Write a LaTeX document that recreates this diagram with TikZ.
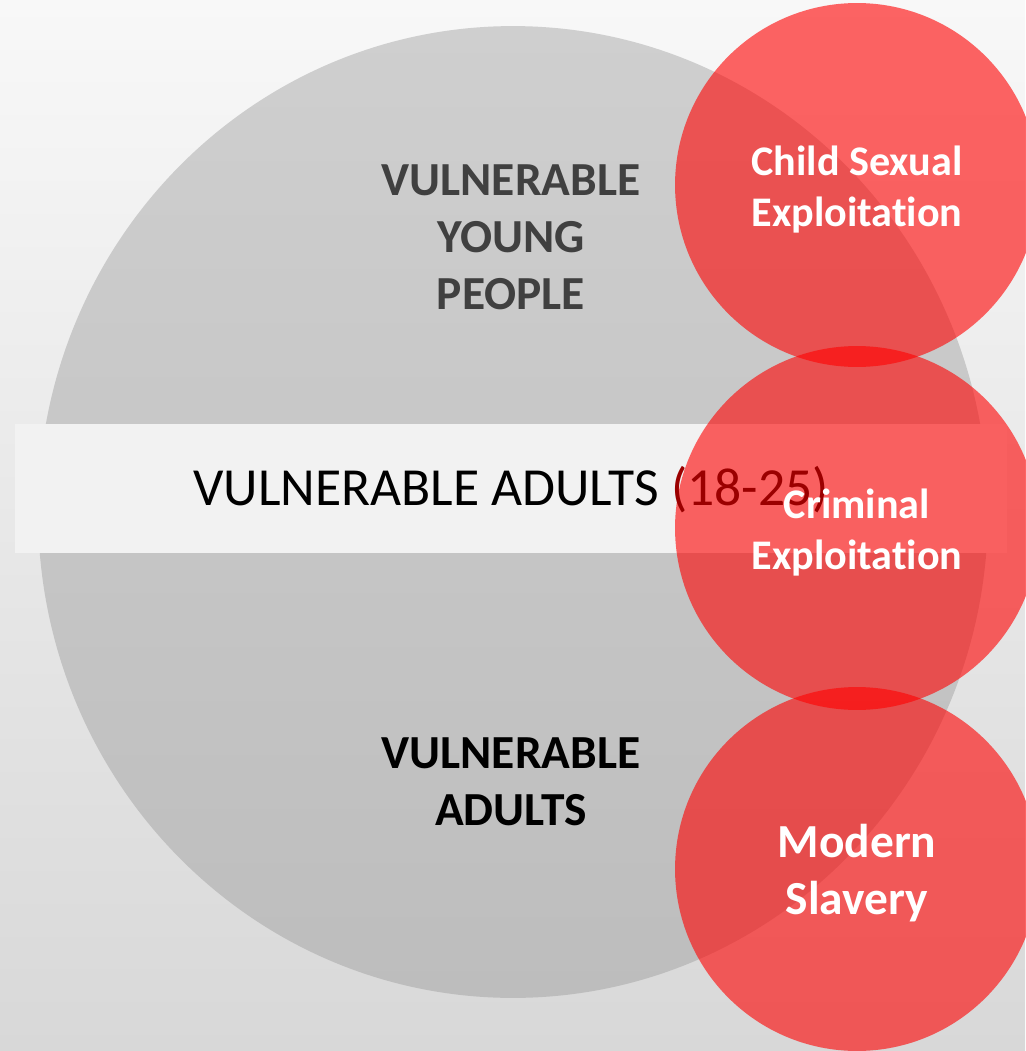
\documentclass[tikz,border=0pt]{standalone}
\usepackage{fontspec}
\setmainfont{Carlito}[RawFeature={-liga}]
\usetikzlibrary{shapes.geometric}
\definecolor{bgtop}{RGB}{248,248,248}
\definecolor{bgbottom}{RGB}{216,216,216}
\definecolor{circtop}{RGB}{207,207,207}
\definecolor{circbottom}{RGB}{189,189,189}
\definecolor{bandgray}{RGB}{242,242,242}
\definecolor{darkred}{RGB}{155,0,0}
\definecolor{labelgray}{RGB}{64,64,64}

\begin{document}
\begin{tikzpicture}[x=0.02cm,y=-0.02cm]
\def\dsmall{7.28cm}
\tikzset{
  heading/.style={align=center,inner sep=0pt,font=\fontsize{27}{32.4}\selectfont\bfseries},
  redcirc/.style={circle,minimum size=\dsmall,inner sep=0pt,fill=red,fill opacity=0.6},
  redtext/.style={align=center,inner sep=0pt,text=white,yshift=-0.09cm}
}
\useasboundingbox (0,0) rectangle (1025,1051);
\shade[top color=bgtop, bottom color=bgbottom] (0,0) rectangle (1025,1051);
% big grey circle
\node[ellipse,minimum width=19cm,minimum height=19.44cm,inner sep=0pt,top color=circtop,bottom color=circbottom] (big) at (513,512) {};
% band across the middle
\node[fill=bandgray,minimum width=19.84cm,minimum height=2.58cm,inner sep=0pt] (band) at (511,488.5) {};
\node[heading,text=labelgray] (young) at (511,237) {VULNERABLE\\YOUNG\\PEOPLE};
\node[heading,text=black] (adults) at (511,781.5) {VULNERABLE\\ADULTS};
% red circles
\foreach \n/\y in {cse/185, ce/528, ms/869}
    \node[redcirc] (\n) at (857,\y) {};
\node[font=\fontsize{30.5}{36}\selectfont,inner sep=0pt,yshift=-0.03cm] (bandtext) at (band.center) {VULNERABLE ADULTS \textcolor{darkred}{(18-25)}};
\foreach \n/\s/\b/\t in {cse/24/29/{Child Sexual\\Exploitation}, ce/24/29/{Criminal\\Exploitation}, ms/27/32.4/{Modern\\Slavery}}
    \node[redtext,font=\fontsize{\s}{\b}\selectfont\bfseries] (\n text) at (\n.center) {\t};
\end{tikzpicture}
\end{document}
